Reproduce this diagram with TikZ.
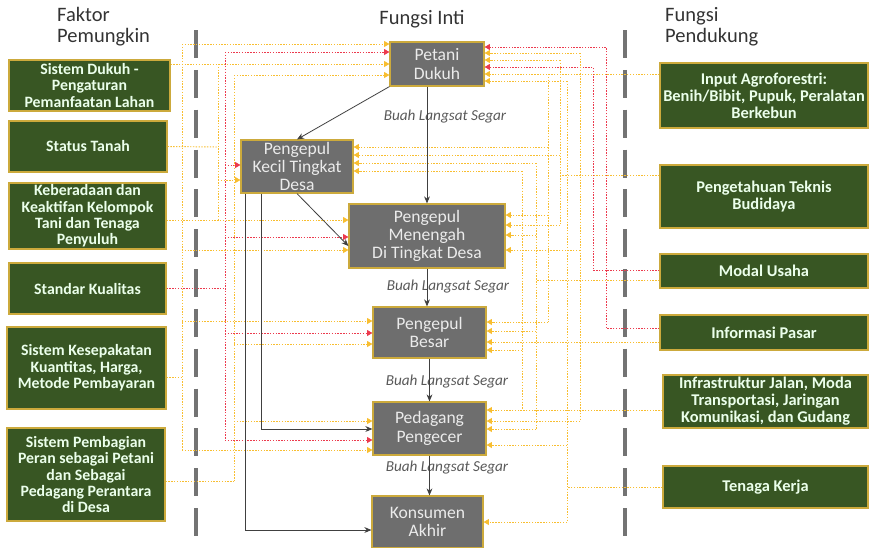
\documentclass[tikz,border=0pt]{standalone}
\usepackage{fontspec}
\setmainfont{Carlito}
\usepackage{xcolor}
\usepackage{tikz}
\usetikzlibrary{arrows.meta}
\definecolor{daun}{RGB}{56,86,35}
\definecolor{emas}{RGB}{204,170,60}
\definecolor{abu}{RGB}{110,110,110}
\definecolor{kuning}{RGB}{248,190,48}
\definecolor{merah}{RGB}{236,58,78}

\begin{document}
\begin{tikzpicture}[x=0.03cm,y=-0.03cm,
  faktor/.style={draw=emas,line width=1pt,fill=daun,text=green!8!white,align=center,inner sep=0pt,
    font=\bfseries\fontsize{13.5}{14}\selectfont},
  dukung/.style={faktor,font=\bfseries\fontsize{14}{14.5}\selectfont},
  inti/.style={draw=emas,line width=1pt,fill=abu,text=black!8!white,align=center,inner sep=0pt,
    font=\fontsize{15}{15.6}\selectfont},
  judul/.style={anchor=west,align=left,inner sep=0pt,text=black!80!white,font=\fontsize{17.5}{18}\selectfont},
  buah/.style={text=black!65!white,font=\itshape\fontsize{13}{14}\selectfont},
  batas/.style={draw=black!55!white,line width=2.6pt,dash pattern=on 24pt off 10pt},
  alir/.style={draw=black!75!white,line width=0.7pt,-{Stealth[length=6pt,width=5pt]}},
  kt/.style={draw=kuning,line width=0.8pt,dash pattern=on 1.2pt off 1.2pt},
  mt/.style={draw=merah,line width=0.8pt,dash pattern=on 1.2pt off 1.2pt},
  ujung/.style={-{Triangle[length=4.5pt,width=5pt]}}]
\useasboundingbox (0,0) rectangle (869,547);

\node[judul] (jfaktor) at (57,27) {Faktor\\Pemungkin};
\node[judul,anchor=center] (jinti) at (422,19) {Fungsi Inti};
\node[judul] (jdukung) at (665,27) {Fungsi\\Pendukung};

\draw[batas] (196,30) -- (196,545);
\draw[batas] (625,30) -- (625,545);

\node[faktor,minimum width=4.83cm,minimum height=1.53cm] (sdukuh) at (89.5,85.5) {Sistem Dukuh -\\Pengaturan\\Pemanfaatan Lahan};
\node[faktor,minimum width=4.74cm,minimum height=1.53cm] (stanah) at (88,146.5) {Status Tanah};
\node[faktor,minimum width=4.71cm,minimum height=1.98cm] (kelompok) at (87.5,216) {Keberadaan dan\\Keaktifan Kelompok\\Tani dan Tenaga\\Penyuluh};
\node[faktor,minimum width=4.71cm,minimum height=1.53cm] (kualitas) at (87.5,288.5) {Standar Kualitas};
\node[faktor,minimum width=4.77cm,minimum height=2.46cm] (kesepakatan) at (86.5,368) {Sistem Kesepakatan\\Kuantitas, Harga,\\Metode Pembayaran};
\node[faktor,minimum width=4.74cm,minimum height=2.79cm] (pembagian) at (86,474.5) {Sistem Pembagian\\Peran sebagai Petani\\dan Sebagai\\Pedagang Perantara\\di Desa};

\node[inti,minimum width=2.82cm,minimum height=1.32cm] (petani) at (437,64) {Petani\\Dukuh};
\node[inti,minimum width=3.36cm,minimum height=1.59cm] (kecil) at (297,166.5) {Pengepul\\Kecil Tingkat\\Desa};
\node[inti,minimum width=4.68cm,minimum height=1.92cm] (menengah) at (427,236) {Pengepul\\Menengah\\Di Tingkat Desa};
\node[inti,minimum width=3.39cm,minimum height=1.53cm] (besar) at (429.5,332.5) {Pengepul\\Besar};
\node[inti,minimum width=3.39cm,minimum height=1.59cm] (pengecer) at (429.5,428.5) {Pedagang\\Pengecer};
\node[inti,minimum width=3.33cm,minimum height=1.56cm] (konsumen) at (427.5,522) {Konsumen\\Akhir};

\node[dukung,minimum width=6.24cm,minimum height=1.95cm] (input) at (764,95.5) {Input Agroforestri:\\Benih/Bibit, Pupuk, Peralatan\\Berkebun};
\node[dukung,minimum width=6.24cm,minimum height=1.89cm] (teknis) at (764,196.5) {Pengetahuan Teknis\\Budidaya};
\node[dukung,minimum width=6.24cm,minimum height=1.02cm] (modal) at (764,271) {Modal Usaha};
\node[dukung,minimum width=6.24cm,minimum height=1.05cm] (pasar) at (764,332.5) {Informasi Pasar};
\node[dukung,minimum width=6.15cm,minimum height=1.59cm] (infra) at (765.5,401.5) {Infrastruktur Jalan, Moda\\Transportasi, Jaringan\\Komunikasi, dan Gudang};
\node[dukung,minimum width=6.15cm,minimum height=1.26cm] (tenaga) at (765.5,487) {Tenaga Kerja};

\node[buah] (bls1) at (445,117) {Buah Langsat Segar};
\node[buah] (bls2) at (448,287) {Buah Langsat Segar};
\node[buah] (bls3) at (447,382) {Buah Langsat Segar};
\node[buah] (bls4) at (447,468) {Buah Langsat Segar};

\draw[kt,ujung] (sdukuh.east |- 0,64) -- (petani.west |- 0,64);
\draw[kt] (218,64) -- (218,220);
\draw[kt] (stanah.east) -- (218,147);
\draw[kt,ujung] (218,180) -- (kecil.west |- 0,180);
\draw[kt,ujung] (kelompok.east |- 0,220) -- (menengah.west |- 0,220);

\draw[mt] (kualitas.east) -- (225,288.5);
\draw[mt] (225,52) -- (225,440);
\foreach \t/\y in {petani/52,kecil/165,menengah/237,besar/333,pengecer/440}
  \draw[mt,ujung] (225,\y) -- (\t.west |- 0,\y);

\draw[kt] (kesepakatan.east |- 0,377) -- (182,377);
\draw[kt] (182,44) -- (182,450);
\foreach \t/\y in {petani/44,menengah/250,besar/321,pengecer/450}
  \draw[kt,ujung] (182,\y) -- (\t.west |- 0,\y);

\draw[kt] (pembagian.east |- 0,481) -- (234,481);
\draw[kt] (234,75) -- (234,481);
\foreach \t/\y in {petani/75,besar/344,pengecer/421}
  \draw[kt,ujung] (234,\y) -- (\t.west |- 0,\y);

\draw[kt,ujung] (input.west |- 0,74) -- (petani.east |- 0,74);
\draw[kt] (548,74) -- (548,322);
\foreach \t/\y in {kecil/147,menengah/215,besar/322}
  \draw[kt,ujung] (548,\y) -- (\t.east |- 0,\y);

\draw[kt] (teknis.west |- 0,175) -- (560,175);
\draw[kt] (560,60) -- (560,225);
\foreach \t/\y in {petani/60,kecil/155,menengah/225}
  \draw[kt,ujung] (560,\y) -- (\t.east |- 0,\y);

\draw[kt] (modal.west |- 0,280) -- (536,280);
\draw[kt] (536,163) -- (536,429);
\foreach \t/\y in {kecil/163,menengah/235,besar/331,pengecer/429}
  \draw[kt,ujung] (536,\y) -- (\t.east |- 0,\y);
\draw[mt,ujung] (modal.west |- 0,270) -- (593,270) -- (593,67) -- (petani.east |- 0,67);

\draw[kt,ujung] (pasar.west |- 0,342) -- (besar.east |- 0,342);
\draw[kt] (580,53) -- (580,421);
\foreach \t/\y in {petani/53,menengah/250,pengecer/421}
  \draw[kt,ujung] (580,\y) -- (\t.east |- 0,\y);
\draw[mt,ujung] (pasar.west |- 0,328) -- (606,328) -- (606,47) -- (petani.east |- 0,47);

\draw[kt,ujung] (infra.west |- 0,410) -- (pengecer.east |- 0,410);
\draw[kt] (522,171) -- (522,410);
\foreach \t/\y in {kecil/171,besar/350}
  \draw[kt,ujung] (522,\y) -- (\t.east |- 0,\y);

\draw[kt] (tenaga.west) -- (567,487);
\draw[kt] (567,81) -- (567,522);
\foreach \t/\y in {petani/81,pengecer/445,konsumen/522}
  \draw[kt,ujung] (567,\y) -- (\t.east |- 0,\y);

\draw[alir] (petani.south west) -- (kecil.north);
\draw[alir] (menengah.north |- petani.south) -- (menengah.north);
\draw[alir] (kecil.south) -- (menengah.west |- 0,246);
\draw[alir] (menengah.south) -- (menengah.south |- besar.north);
\draw[alir] (besar.south) -- (pengecer.north);
\draw[alir] (pengecer.south) -- (pengecer.south |- konsumen.north);
\draw[alir] (261,0 |- kecil.south) -- (261,429) -- (pengecer.west |- 0,429);
\draw[alir] (245,0 |- kecil.south) -- (245,530) -- (konsumen.west |- 0,530);

\end{tikzpicture}
\end{document}
